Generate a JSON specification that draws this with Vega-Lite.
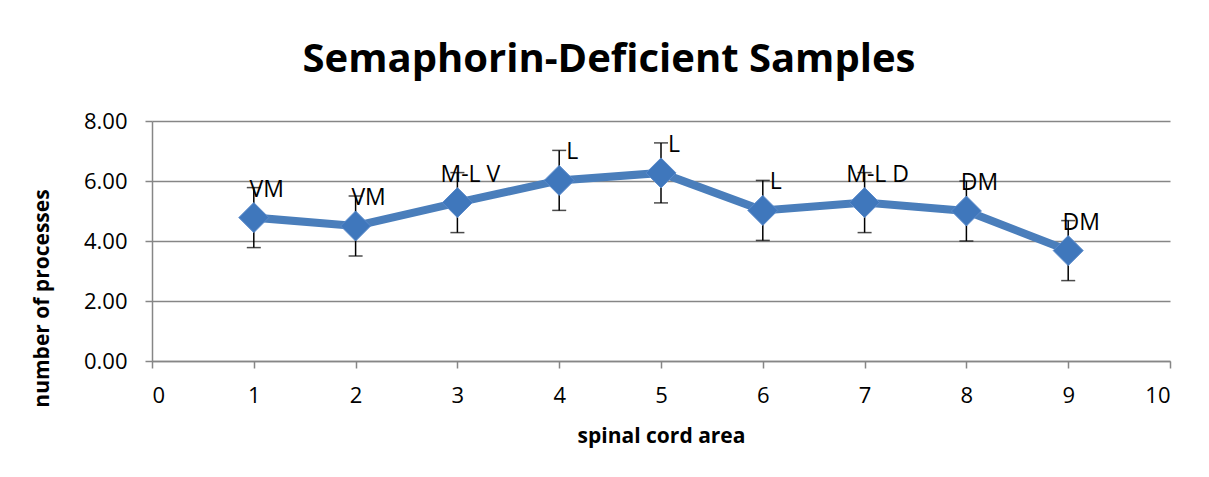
{
  "$schema": "https://vega.github.io/schema/vega-lite/v6.json",
  "autosize": "none",
  "width": 1018,
  "height": 240,
  "padding": {"left": 152, "top": 121, "right": 39, "bottom": 116},
  "background": "white",
  "title": {
    "text": "Semaphorin-Deficient Samples",
    "font": "Open Sans",
    "fontSize": 40,
    "fontWeight": "bold",
    "color": "black",
    "anchor": "middle",
    "baseline": "alphabetic",
    "offset": -2,
    "dx": -52
  },
  "config": {
    "view": {"stroke": null},
    "axis": {
      "labelFont": "Open Sans",
      "titleFont": "Open Sans",
      "labelColor": "black",
      "titleColor": "black",
      "domainColor": "#868686",
      "tickColor": "#868686",
      "gridColor": "#868686",
      "domainWidth": 1.5,
      "tickWidth": 1.5,
      "gridWidth": 1.5
    }
  },
  "data": {
    "values": [
      {"area": 1, "mean": 4.78, "lo": 3.78, "hi": 5.78, "label": "VM"},
      {"area": 2, "mean": 4.5, "lo": 3.5, "hi": 5.5, "label": "VM"},
      {"area": 3, "mean": 5.28, "lo": 4.28, "hi": 6.28, "label": "M-L V"},
      {"area": 4, "mean": 6.02, "lo": 5.02, "hi": 7.02, "label": "L"},
      {"area": 5, "mean": 6.27, "lo": 5.27, "hi": 7.27, "label": "L"},
      {"area": 6, "mean": 5.02, "lo": 4.02, "hi": 6.02, "label": "L"},
      {"area": 7, "mean": 5.28, "lo": 4.28, "hi": 6.28, "label": "M-L D"},
      {"area": 8, "mean": 5.0, "lo": 4.0, "hi": 6.0, "label": "DM"},
      {"area": 9, "mean": 3.68, "lo": 2.68, "hi": 4.68, "label": "DM"}
    ]
  },
  "encoding": {
    "x": {
      "field": "area",
      "type": "quantitative",
      "scale": {"domain": [0, 10], "nice": false, "zero": false},
      "axis": {
        "title": "spinal cord area",
        "values": [0, 1, 2, 3, 4, 5, 6, 7, 8, 9, 10],
        "grid": false,
        "tickSize": 7,
        "labelFontSize": 22,
        "labelPadding": 17,
        "titleFontSize": 21,
        "titleFontWeight": "bold",
        "titlePadding": 19
      }
    }
  },
  "layer": [
    {
      "mark": {"type": "rule", "color": "black", "strokeWidth": 1.5},
      "encoding": {
        "y": {
          "field": "lo",
          "type": "quantitative",
          "scale": {"domain": [0, 8], "nice": false},
          "axis": {
            "title": "number of processes",
            "values": [0, 2, 4, 6, 8],
            "format": ".2f",
            "grid": true,
            "tickSize": 7,
            "labelFontSize": 22,
            "labelPadding": 18,
            "titleFontSize": 21,
            "titleFontWeight": "bold",
            "titleAngle": -90,
            "titleAlign": "center",
            "titleBaseline": "middle",
            "titleX": -110,
            "titleY": 177
          }
        },
        "y2": {"field": "hi"}
      }
    },
    {
      "mark": {"type": "tick", "color": "black", "orient": "horizontal", "size": 14, "thickness": 1.5},
      "encoding": {"y": {"field": "lo", "type": "quantitative"}}
    },
    {
      "mark": {"type": "tick", "color": "black", "orient": "horizontal", "size": 14, "thickness": 1.5},
      "encoding": {"y": {"field": "hi", "type": "quantitative"}}
    },
    {
      "mark": {"type": "line", "color": "#4A7EBB", "strokeWidth": 8},
      "encoding": {"y": {"field": "mean", "type": "quantitative"}}
    },
    {
      "mark": {"type": "point", "shape": "diamond", "filled": true, "size": 900, "color": "#3F77BC", "stroke": "#5A8ACB", "strokeWidth": 1, "opacity": 1},
      "encoding": {"y": {"field": "mean", "type": "quantitative"}}
    },
    {
      "mark": {"type": "text", "font": "Open Sans", "fontSize": 23, "color": "black", "align": "center", "baseline": "alphabetic", "dx": 13, "dy": -21},
      "encoding": {
        "y": {"field": "mean", "type": "quantitative"},
        "text": {"field": "label"}
      }
    }
  ]
}
